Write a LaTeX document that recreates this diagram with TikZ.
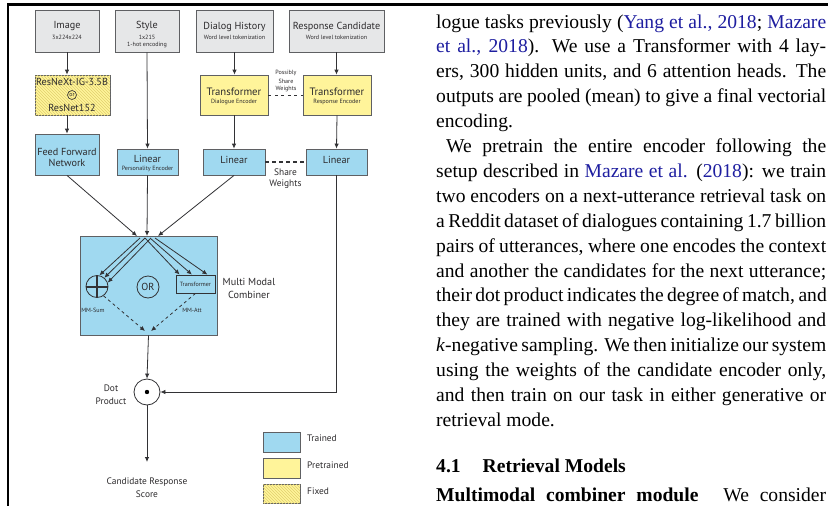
\documentclass[tikz,border=0pt]{standalone}
\usepackage{fontspec}
\setmainfont{Liberation Serif}
\newfontfamily\diagfont{PT Sans}
\usetikzlibrary{arrows.meta,patterns,calc}

\definecolor{grayfill}{RGB}{230,231,232}
\definecolor{boxline}{RGB}{95,96,99}
\definecolor{txt}{RGB}{45,43,45}
\definecolor{wire}{RGB}{50,50,53}
\definecolor{trained}{RGB}{160,217,240}
\definecolor{pretrained}{RGB}{255,244,154}
\definecolor{hatch}{RGB}{225,208,110}
\definecolor{cite}{RGB}{30,30,160}

\newcommand\dgbig{\fontsize{10.2}{11}\selectfont}
\newcommand\dgmid{\fontsize{9.4}{10}\selectfont}
\newcommand\dgsmall{\fontsize{6.1}{6.5}\selectfont}
\newcommand\paratext{\fontsize{19.6}{24.9}\selectfont}

\tikzset{
  lbl/.style={font=\diagfont, text=txt, inner sep=0pt, align=center},
  basebox/.style={draw=boxline, line width=0.8pt, inner sep=0pt},
  greybox/.style={basebox, fill=grayfill},
  trainbox/.style={basebox, fill=trained},
  pretrainbox/.style={basebox, fill=pretrained},
  fixedbox/.style={basebox, fill=pretrained,
    postaction={pattern=north west lines, pattern color=hatch}},
  conn/.style={draw=wire, line width=0.8pt},
  arr/.style={conn, -{Latex[length=5pt,width=4.5pt]}},
  dasharr/.style={arr, dash pattern=on 3pt off 3pt},
  para/.style={anchor=base west, inner sep=0pt, font=\paratext},
}

\begin{document}
\begin{tikzpicture}[x=1pt,y=-1pt]
\useasboundingbox (0,0) rectangle (828,506);
\fill[white] (0,0) rectangle (828,506);

% figure frame
\draw[line width=2.2pt] (8,4.5) -- (828,4.5);
\draw[line width=2pt] (8,3.4) -- (8,506);

% ---------- input boxes ----------
\node[greybox, minimum width=64pt, minimum height=42pt] (img) at (67,31) {};
\node[lbl, font=\diagfont\dgbig] (imgA) at (67,26) {Image};
\node[lbl, font=\diagfont\dgsmall] (imgB) at (67,37) {3x224x224};

\node[greybox, minimum width=64pt, minimum height=42pt] (sty) at (147,31) {};
\node[lbl, font=\diagfont\dgbig] (styA) at (147,26) {Style};
\node[lbl, font=\diagfont\dgsmall] (styB) at (147,37.5) {1x215};
\node[lbl, font=\diagfont\dgsmall] (styC) at (147,45) {1-hot encoding};

\node[greybox, minimum width=77pt, minimum height=42pt] (dlg) at (234.5,31) {};
\node[lbl, font=\diagfont\dgbig] (dlgA) at (234.5,27) {Dialog History};
\node[lbl, font=\diagfont\dgsmall] (dlgB) at (234.5,37.5) {Word level tokenization};

\node[greybox, minimum width=95pt, minimum height=42pt] (rsp) at (336.5,31) {};
\node[lbl, font=\diagfont\dgbig] (rspA) at (336.5,27) {Response Candidate};
\node[lbl, font=\diagfont\dgsmall] (rspB) at (336.5,37.5) {Word level tokenization};

% ---------- encoders ----------
\node[fixedbox, minimum width=75pt, minimum height=40pt] (rnx) at (72.5,95) {};
\node[lbl, font=\diagfont\dgbig] (rnxA) at (72,82) {ResNeXt-IG-3.5B};
\node[draw=wire, line width=0.6pt, circle, minimum size=9pt, inner sep=0pt,
      font=\diagfont\fontsize{6}{6}\selectfont, text=txt] (rnxor) at (72,95) {or};
\node[lbl, font=\diagfont\dgbig] (rnxB) at (72,108) {ResNet152};

\node[pretrainbox, minimum width=68pt, minimum height=40pt] (trd) at (234,95) {};
\node[lbl, font=\diagfont\fontsize{10.7}{11}\selectfont] (trdA) at (234,91.5) {Transformer};
\node[lbl, font=\diagfont\dgsmall] (trdB) at (234,102) {Dialogue Encoder};

\node[pretrainbox, minimum width=68pt, minimum height=40pt] (trr) at (337,95) {};
\node[lbl, font=\diagfont\fontsize{10.7}{11}\selectfont] (trrA) at (337,91.5) {Transformer};
\node[lbl, font=\diagfont\dgsmall] (trrB) at (337,102) {Response Encoder};

\node[lbl, font=\diagfont\dgsmall] (psw1) at (286,73) {Possibly};
\node[lbl, font=\diagfont\dgsmall] (psw2) at (286,81) {Share};
\node[lbl, font=\diagfont\dgsmall] (psw3) at (286,89) {Weights};

% ---------- trained projections ----------
\node[trainbox, minimum width=64pt, minimum height=41pt] (ffn) at (67,154.5) {};
\node[lbl, font=\diagfont\dgbig] (ffnA) at (67,151.5) {Feed Forward};
\node[lbl, font=\diagfont\dgbig] (ffnB) at (67,163) {Network};

\node[trainbox, minimum width=61pt, minimum height=26pt] (linp) at (147.5,162) {};
\node[lbl, font=\diagfont\dgbig] (linpA) at (147.5,158.5) {Linear};
\node[lbl, font=\diagfont\dgsmall] (linpB) at (147.5,169) {Personality Encoder};

\node[trainbox, minimum width=62pt, minimum height=26pt] (lind) at (234,162) {};
\node[lbl, font=\diagfont\dgbig] (lindA) at (234,159.5) {Linear};

\node[trainbox, minimum width=61pt, minimum height=26pt] (linr) at (336.5,162) {};
\node[lbl, font=\diagfont\dgbig] (linrA) at (336.5,159.5) {Linear};

\node[lbl, font=\diagfont\dgmid] (shw1) at (285.5,172) {Share};
\node[lbl, font=\diagfont\dgmid] (shw2) at (285.5,184) {Weights};

% ---------- multi modal combiner ----------
\node[trainbox, minimum width=137pt, minimum height=99pt] (mmc) at (148.5,285.5) {};
\node[lbl, font=\diagfont\dgbig] (mmcA) at (249,282) {Multi Modal};
\node[lbl, font=\diagfont\dgbig] (mmcB) at (249,295) {Combiner};

\node[draw=wire, line width=0.8pt, circle, minimum size=22pt, inner sep=0pt] (sum) at (97,286.5) {};
\draw[wire, line width=2pt] (sum.north) -- (sum.south) (sum.west) -- (sum.east);
\node[draw=wire, line width=0.8pt, circle, minimum size=22pt, inner sep=0pt,
      font=\diagfont\dgbig, text=txt] (orc) at (148,287) {OR};
\node[basebox, draw=wire, fill=trained, minimum width=39pt, minimum height=18pt,
      font=\diagfont\dgsmall, text=txt] (att) at (195.5,284) {Transformer};
\node[lbl, font=\diagfont\dgsmall] (mmsum) at (93,310) {MM-Sum};
\node[lbl, font=\diagfont\dgsmall] (mmatt) at (192,310) {MM-Att};

% ---------- scoring ----------
\node[draw=wire, line width=0.8pt, circle, fill=white, minimum size=26pt, inner sep=0pt] (dot) at (147,392) {};
\fill[black] (dot.center) circle (2.2pt);
\node[lbl, font=\diagfont\dgmid] (dotA) at (111,388) {Dot};
\node[lbl, font=\diagfont\dgmid] (dotB) at (111,401) {Product};
\coordinate (scoreend) at (147,462);
\node[lbl, font=\diagfont\dgmid] (scA) at (147,482) {Candidate Response};
\node[lbl, font=\diagfont\dgmid] (scB) at (147,494.5) {Score};

% ---------- legend ----------
\node[trainbox, minimum width=37pt, minimum height=20pt] (lg1) at (281.5,442) {};
\node[pretrainbox, minimum width=37pt, minimum height=20pt] (lg2) at (281.5,468.5) {};
\node[fixedbox, minimum width=37pt, minimum height=19pt] (lg3) at (281.5,494) {};
\node[lbl, font=\diagfont\dgmid, anchor=west] (lg1t) at (307,438) {Trained};
\node[lbl, font=\diagfont\dgmid, anchor=west] (lg2t) at (307,465) {Pretrained};
\node[lbl, font=\diagfont\dgmid, anchor=west] (lg3t) at (307,491.5) {Fixed};

% ---------- connectors ----------
\draw[arr] (img.south) -- (img.south |- rnx.north);
\draw[arr] (img.south |- rnx.south) -- (ffn.north);
\draw[arr] (sty.south) -- (linp.north);
\draw[arr] (dlg.south) -- (dlg.south |- trd.north);
\draw[arr] (trd.south) -- (lind.north);
\draw[arr] (rsp.south) -- (rsp.south |- trr.north);
\draw[arr] (trr.south) -- (linr.north);
\draw[conn, dash pattern=on 3pt off 3.5pt] (trd.east) -- (trr.west);
\draw[conn, line width=1.1pt, dash pattern=on 4pt off 3pt] (lind.east) -- (linr.west);

% inputs into the combiner
\coordinate (in1) at (137,236);
\coordinate (in2) at (147,236);
\coordinate (in3) at (158,236);
\draw[arr] (ffn.south) -- (in1);
\draw[arr] (linp.south) -- (in2);
\draw[arr] (lind.south) -- (in3);

% fan-out inside the combiner
\coordinate (fs1) at (140,238);
\coordinate (fs2) at (145,238);
\coordinate (fs3) at (150,239);
\coordinate (ft1) at (145,238);
\coordinate (ft2) at (150,238);
\coordinate (ft3) at (155,238);
\draw[arr] (fs1) -- (sum.78);
\draw[arr] (fs2) -- (sum.50);
\draw[arr] (fs3) -- (sum.20);
\draw[arr] (ft1) -- ($(att.north west)!0.1!(att.north east)$);
\draw[arr] (ft2) -- ($(att.north west)!0.41!(att.north east)$);
\draw[arr] (ft3) -- ($(att.north west)!0.8!(att.north east)$);

% dashed merges to the combiner output
\coordinate (mo1) at (145,331);
\coordinate (mo2) at (151,331);
\draw[dasharr] (sum.-55) -- (mo1);
\draw[dasharr] ($(att.south west)!0.5!(att.south east)$) -- (mo2);

% scoring path
\draw[arr] (mmc.south) -- (dot.north);
\draw[arr] (linr.south) -- (linr.south |- dot.east) -- (dot.east);
\draw[arr] (dot.south) -- (scoreend);

% ---------- running text ----------
\node[para] (p1) at (436,28) {\makebox[390pt][s]{logue tasks previously (\textcolor{cite}{Yang et al., 2018}; \textcolor{cite}{Mazare}}};
\node[para] (p2) at (436,52.9) {\makebox[390pt][s]{\textcolor{cite}{et al., 2018}). We use a Transformer with 4 lay-}};
\node[para] (p3) at (436,77.8) {\makebox[390pt][s]{ers, 300 hidden units, and 6 attention heads. The}};
\node[para] (p4) at (436,102.7) {\makebox[390pt][s]{outputs are pooled (mean) to give a final vectorial}};
\node[para] (p5) at (436,127.6) {encoding.};
\node[para] (p6) at (446,152.5) {\makebox[380pt][s]{We pretrain the entire encoder following the}};
\node[para] (p7) at (436,177.4) {\makebox[390pt][s]{setup described in \textcolor{cite}{Mazare et al.} (\textcolor{cite}{2018}): we train}};
\node[para] (p8) at (436,202.3) {\makebox[390pt][s]{two encoders on a next-utterance retrieval task on}};
\node[para] (p9) at (436,227.2) {\makebox[390pt][s]{a Reddit dataset of dialogues containing 1.7 billion}};
\node[para] (p10) at (436,252.1) {\makebox[390pt][s]{pairs of utterances, where one encodes the context}};
\node[para] (p11) at (436,277) {\makebox[390pt][s]{and another the candidates for the next utterance;}};
\node[para] (p12) at (436,301.9) {\makebox[390pt][s]{their dot product indicates the degree of match, and}};
\node[para] (p13) at (436,326.8) {\makebox[390pt][s]{they are trained with negative log-likelihood and}};
\node[para] (p14) at (436,351.7) {\makebox[390pt][s]{\textit{k}-negative sampling. We then initialize our system}};
\node[para] (p15) at (436,376.6) {\makebox[390pt][s]{using the weights of the candidate encoder only,}};
\node[para] (p16) at (436,401.5) {\makebox[390pt][s]{and then train on our task in either generative or}};
\node[para] (p17) at (436,426.4) {retrieval mode.};
\node[para, font=\paratext\bfseries] (h41) at (436,472) {4.1\hspace{22pt}Retrieval Models};
\node[para] (p18) at (436,501.5) {\makebox[390pt][s]{\textbf{Multimodal combiner module}\hspace{14pt} We consider}};
\end{tikzpicture}
\end{document}
